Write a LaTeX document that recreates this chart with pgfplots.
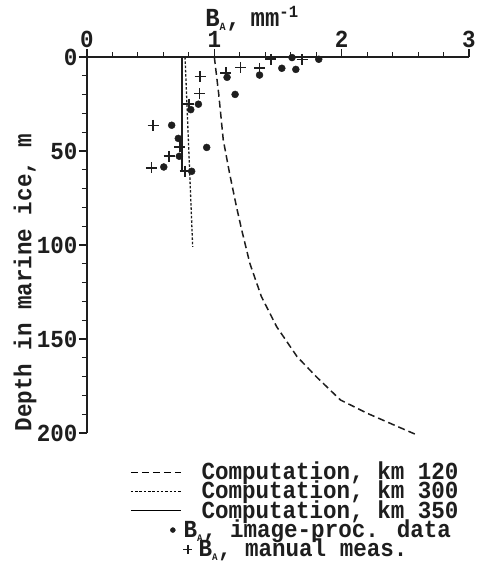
\documentclass[border=0pt]{standalone}
\usepackage{pgfplots}
\pgfplotsset{compat=1.18}
\usepackage{fontspec}
\setmainfont{Liberation Mono}[FakeStretch=0.92]
\definecolor{ink}{HTML}{1E1E1E}
\begin{document}
\begin{tikzpicture}[font=\fontsize{24.5pt}{27pt}\selectfont\bfseries, color=ink]
\useasboundingbox (-87pt,-135pt) rectangle (391pt,433pt);
\begin{axis}[
  at={(0pt,0pt)}, anchor=south west,
  scale only axis, width=382pt, height=376pt,
  xmin=0, xmax=3, ymin=0, ymax=200,
  y dir=reverse,
  axis x line*=top, axis y line*=left,
  axis line style={line width=1.2pt, ink},
  every tick/.style={line width=1.1pt, ink},
  tick align=outside,
  major tick length=8pt, minor tick length=5pt,
  xtick={0,1,2,3}, ytick={0,50,100,150,200},
  minor x tick num=4, minor y tick num=4,
  yticklabel style={xshift=2pt},
  xticklabel style={yshift=-2pt},
  /pgf/number format/assume math mode=true,
  xlabel={\fontsize{26pt}{28pt}\selectfont B\textsubscript{\fontsize{11pt}{12pt}\selectfont A},\hspace{10pt}mm\textsuperscript{\fontsize{17pt}{18pt}\selectfont -1}},
  ylabel={Depth in marine ice, m},
  xlabel style={at={(axis description cs:0.432,1.08)}, anchor=base},
  ylabel style={at={(axis description cs:-0.162,0.40)}, anchor=center, rotate=0},
  clip=false,
  legend style={draw=none, fill=none, inner sep=0pt,
    at={(axis description cs:0.1126,-0.0943)}, anchor=north west,
    nodes={text height=11pt, text depth=4pt, inner ysep=0pt, inner xsep=0pt},
    row sep=4.3pt,
    /tikz/every odd column/.append style={column sep=2pt}},
  legend cell align=left,
]
\addplot[line width=1.5pt, dash pattern=on 7pt off 4pt,
  legend image code/.code={\path[draw=none,fill=none] (0pt,-5pt) rectangle (50pt,5pt); \draw[line width=1.3pt, dash pattern=on 7pt off 4pt] (0pt,4pt) -- (50pt,4pt);}]
  coordinates {(1.00,0) (1.035,20) (1.07,44) (1.12,62) (1.175,80) (1.215,92) (1.28,110) (1.37,127.5) (1.49,143.5) (1.65,159.4) (1.80,170) (1.99,182.4) (2.20,189.5) (2.41,195.7) (2.59,201)};
\addlegendentry{\hspace{18pt}Computation, km 120}
\addplot[line width=1.3pt, dash pattern=on 2.5pt off 1.8pt,
  legend image code/.code={\path[draw=none,fill=none] (0pt,-5pt) rectangle (50pt,5pt); \draw[line width=1.2pt, dash pattern=on 2.5pt off 1.8pt] (0pt,4pt) -- (50pt,4pt);}]
  coordinates {(0.77,0) (0.83,101)};
\addlegendentry{\hspace{18pt}Computation, km 300}
\addplot[line width=1.3pt,
  legend image code/.code={\path[draw=none,fill=none] (0pt,-5pt) rectangle (50pt,5pt); \draw[line width=1.2pt] (0pt,4pt) -- (50pt,4pt);}]
  coordinates {(0.745,0) (0.745,61)};
\addlegendentry{\hspace{18pt}Computation, km 350}
\addplot[only marks, mark=*, mark size=3.5pt, ink,
  legend image code/.code={\path[draw=none,fill=none] (0pt,-5pt) rectangle (50pt,5pt); \draw[only marks, mark=*, mark size=2.5pt, ink] plot coordinates {(42pt,4pt)};}]
  coordinates {(1.61,0.3) (1.82,1.2) (1.53,6) (1.64,6.6) (1.355,9.6) (1.10,10.8) (1.163,19.9) (0.875,25.1) (0.815,28) (0.665,36.3) (0.717,43.3) (0.94,48.1) (0.725,52.8) (0.603,58.5) (0.822,60.8)};
\addlegendentry{B\textsubscript{\fontsize{10pt}{11pt}\selectfont A}, image-proc. data}
\addplot[only marks, mark=+, mark size=5.5pt, line width=1.6pt, ink,
  legend image code/.code={\path[draw=none,fill=none] (0pt,-5pt) rectangle (50pt,5pt); \draw[overlay, only marks, mark=+, mark size=4.5pt, line width=1.4pt, ink] plot coordinates {(57pt,4pt)};}]
  coordinates {(0.888,10.3) (0.884,19.5) (0.80,25) (0.52,36.4) (0.73,47.8) (0.645,52.8) (0.505,59) (0.77,60.7) (1.09,8.4) (1.207,5.6) (1.355,6) (1.445,1.2) (1.69,1.3)};
\addlegendentry{\hspace{15pt}B\textsubscript{\fontsize{10pt}{11pt}\selectfont A}, manual meas.}
\end{axis}
\end{tikzpicture}
\end{document}
